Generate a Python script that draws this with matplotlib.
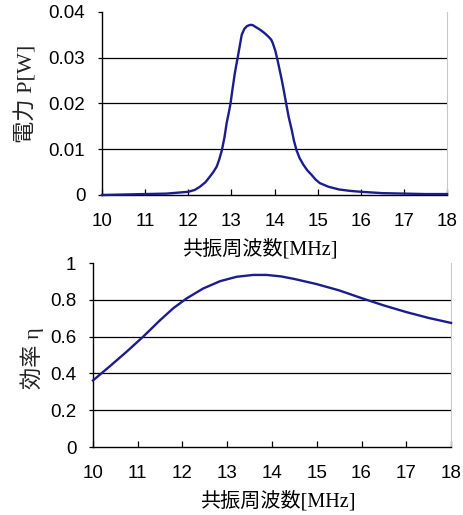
import matplotlib
matplotlib.use("Agg")
import matplotlib.pyplot as plt

# Data
freq_p = [10.0, 10.5, 11.0, 11.5, 12.0, 12.15, 12.27, 12.40, 12.50, 12.58, 12.66, 12.72, 12.78,
          12.84, 12.89, 12.94, 12.98, 13.03, 13.08, 13.12, 13.15, 13.20, 13.24, 13.30, 13.36,
          13.41, 13.45, 13.50, 13.55, 13.62, 13.70, 13.78, 13.86, 13.92, 13.96, 14.02, 14.07,
          14.12, 14.17, 14.22, 14.27, 14.33, 14.40, 14.45, 14.51, 14.58, 14.67, 14.76, 14.86,
          14.95, 15.05, 15.25, 15.5, 15.75, 16.0, 16.5, 17.0, 17.5, 18.0]
power = [0.0000, 0.0001, 0.0002, 0.0003, 0.0007, 0.0011, 0.0018, 0.0028, 0.0040, 0.0050,
         0.0062, 0.0078, 0.0098, 0.0126, 0.0157, 0.0180, 0.0200, 0.0234, 0.0266, 0.0287,
         0.0302, 0.0329, 0.0350, 0.0363, 0.0369, 0.0371, 0.0372, 0.0371, 0.0368, 0.0364,
         0.0359, 0.0353, 0.0346, 0.0340, 0.0332, 0.0315, 0.0295, 0.0273, 0.0251, 0.0226,
         0.0200, 0.0170, 0.0142, 0.0119, 0.0098, 0.0081, 0.0066, 0.0054, 0.0044, 0.0034,
         0.0026, 0.0018, 0.0012, 0.0009, 0.0007, 0.0004, 0.0003, 0.0002, 0.0002]

freq_e = [10.0, 10.38, 10.75, 11.12, 11.50, 11.79, 12.09, 12.46, 12.84, 13.21, 13.58,
          13.88, 14.2, 14.5, 15.0, 15.5, 16.0, 16.5, 17.0, 17.5, 18.0]
eff = [0.362, 0.440, 0.518, 0.600, 0.690, 0.754, 0.808, 0.862, 0.902, 0.926, 0.936,
       0.936, 0.928, 0.914, 0.886, 0.852, 0.810, 0.770, 0.734, 0.702, 0.675]

x_ticks = [10, 11, 12, 13, 14, 15, 16, 17, 18]
p_ticks = [0, 0.01, 0.02, 0.03, 0.04]
p_tick_labels = ["0", "0.01", "0.02", "0.03", "0.04"]
e_ticks = [0, 0.2, 0.4, 0.6, 0.8, 1.0]
e_tick_labels = ["0", "0.2", "0.4", "0.6", "0.8", "1"]

xlabel = "共振周波数[MHz]"
ylabel_p = "電力 P[W]"
ylabel_e = "効率 η"

LINE = "#1c1c8c"
TICK_FONT = "Liberation Sans"
LABEL_FONT = ["Liberation Serif", "Noto Sans CJK JP"]

fig = plt.figure(figsize=(4.64, 5.15), dpi=100)
ax1 = fig.add_axes([0.2198, 0.6214, 0.7436, 0.3553])
ax2 = fig.add_axes([0.2004, 0.1320, 0.7716, 0.3570])


def style(ax, yticks, ylabels):
    ax.set_xlim(10, 18)
    ax.set_xticks(x_ticks)
    ax.set_xticklabels([str(t) for t in x_ticks], fontname=TICK_FONT, fontsize=13.5)
    ax.set_yticks(yticks)
    ax.set_ylim(yticks[0], yticks[-1])
    ax.set_yticklabels(ylabels, fontname=TICK_FONT, fontsize=13.5)
    for y in yticks[1:-1]:
        ax.axhline(y, color="black", lw=0.9, zorder=1)
    ax.spines["top"].set_visible(False)
    ax.spines["right"].set_color("#c8c8c8")
    ax.spines["left"].set_color("black")
    ax.spines["bottom"].set_color("black")
    ax.spines["left"].set_linewidth(1.0)
    ax.spines["bottom"].set_linewidth(1.0)
    ax.tick_params(axis="x", direction="in", length=4, width=0.9, pad=13)
    ax.tick_params(axis="y", direction="out", length=3, width=0.9, pad=9)


ax1.plot(freq_p, power, color=LINE, lw=1.7, zorder=3, clip_on=False,
         solid_joinstyle="round")
style(ax1, p_ticks, p_tick_labels)

ax2.plot(freq_e, eff, color=LINE, lw=1.7, zorder=3, clip_on=False,
         solid_joinstyle="round")
style(ax2, e_ticks, e_tick_labels)

fig.text(0.560, 1 - 249 / 515, xlabel, family=LABEL_FONT, fontsize=14.5,
         ha="center", va="center")
fig.text(0.599, 1 - 501 / 515, xlabel, family=LABEL_FONT, fontsize=14.5,
         ha="center", va="center")
fig.text(0.058, 0.817, ylabel_p, family=LABEL_FONT, fontsize=16, ha="center", va="center",
         rotation=90, color="#222222")
fig.text(0.069, 0.305, ylabel_e, family=LABEL_FONT, fontsize=16, ha="center", va="center",
         rotation=90, color="#222222")

fig.savefig("out.png", dpi=100)
